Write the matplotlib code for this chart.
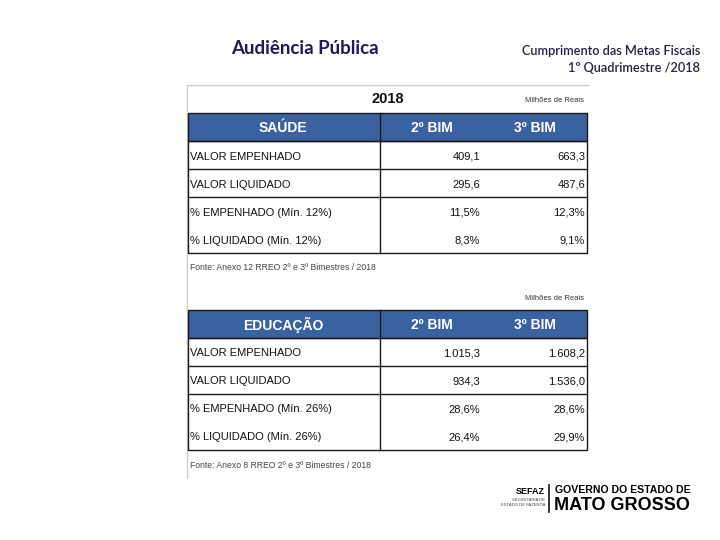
import matplotlib
matplotlib.use("Agg")
import matplotlib.pyplot as plt
from matplotlib.patches import Rectangle

# ---- data ----
year_title = "2018"
unit_label = "Milhões de Reais"
col_headers = ["2º BIM", "3º BIM"]

saude_title = "SAÚDE"
saude_rows = ["VALOR EMPENHADO", "VALOR LIQUIDADO", "% EMPENHADO (Mín. 12%)", "% LIQUIDADO (Mín. 12%)"]
saude_bim2 = ["409,1", "295,6", "11,5%", "8,3%"]
saude_bim3 = ["663,3", "487,6", "12,3%", "9,1%"]
saude_source = "Fonte: Anexo 12 RREO 2º e 3º Bimestres / 2018"

educ_title = "EDUCAÇÃO"
educ_rows = ["VALOR EMPENHADO", "VALOR LIQUIDADO", "% EMPENHADO (Mín. 26%)", "% LIQUIDADO (Mín. 26%)"]
educ_bim2 = ["1.015,3", "934,3", "28,6%", "26,4%"]
educ_bim3 = ["1.608,2", "1.536,0", "28,6%", "29,9%"]
educ_source = "Fonte: Anexo 8 RREO 2º e 3º Bimestres / 2018"

title_left = "Audiência Pública"
title_right = ["Cumprimento das Metas Fiscais", "1º Quadrimestre /2018"]

# ---- figure ----
fig = plt.figure(figsize=(7.2, 5.4), dpi=100)
ax = fig.add_axes([0, 0, 1, 1])
ax.set_xlim(0, 720)
ax.set_ylim(540, 0)
ax.axis("off")

navy = "#1c1c5c"
hdr = "#3b62a0"
font = "Liberation Sans"

ax.text(231, 49, title_left, fontsize=13.5, fontweight="bold", color=navy,
        family="Lato", ha="left", va="center")
ax.text(700, 51, title_right[0], fontsize=9.2, color="#222244", family="Lato",
        ha="right", va="center", fontweight="semibold")
ax.text(700, 68, title_right[1], fontsize=9.2, color="#222244", family="Lato",
        ha="right", va="center", fontweight="semibold")

# frame
ax.plot([187, 588], [85, 85], color="#cccccc", lw=1)
ax.plot([187, 187], [85, 478], color="#cccccc", lw=1)

L, R, D = 188, 587, 380
X2, X3 = 480, 585


def draw_table(top, title, rows, v2, v3, source):
    hh = 28
    rh = 28
    ax.add_patch(Rectangle((L, top), R - L, hh, facecolor=hdr, edgecolor="#1a1a1a", lw=1, zorder=2))
    ax.text((L + D) / 2 - 1, top + hh / 2 + 1, title, color="white", fontsize=10,
            fontweight="bold", family=font, ha="center", va="center", zorder=3)
    ax.text(432, top + hh / 2 + 1, col_headers[0], color="white", fontsize=10,
            fontweight="bold", family=font, ha="center", va="center", zorder=3)
    ax.text(535, top + hh / 2 + 1, col_headers[1], color="white", fontsize=10,
            fontweight="bold", family=font, ha="center", va="center", zorder=3)
    bottom = top + hh + rh * len(rows)
    ax.add_patch(Rectangle((L, top + hh), R - L, bottom - top - hh, facecolor="none",
                           edgecolor="#1a1a1a", lw=1, zorder=2))
    ax.plot([D, D], [top, bottom], color="#1a1a1a", lw=1, zorder=3)
    for i in range(1, 3):
        y = top + hh + rh * i
        ax.plot([L, R], [y, y], color="#1a1a1a", lw=1, zorder=2)
    for i, (lab, a, b) in enumerate(zip(rows, v2, v3)):
        yc = top + hh + rh * i + rh / 2 + 1.5
        ax.text(L + 2, yc, lab, fontsize=8, family=font, ha="left", va="center", color="#111111")
        ax.text(X2, yc, a, fontsize=8, family=font, ha="right", va="center", color="#111111")
        ax.text(X3, yc, b, fontsize=8, family=font, ha="right", va="center", color="#111111")
    ax.text(L + 2, bottom + 15, source, fontsize=6.2, family=font, ha="left", va="center",
            color="#444444")


ax.text(388, 99, year_title, fontsize=10.5, fontweight="bold", family=font,
        ha="center", va="center", color="#111111")
ax.text(584, 101, unit_label, fontsize=5.5, family=font, ha="right", va="center", color="#333333")
draw_table(113, saude_title, saude_rows, saude_bim2, saude_bim3, saude_source)

ax.text(584, 298, unit_label, fontsize=5.5, family=font, ha="right", va="center", color="#333333")
draw_table(310, educ_title, educ_rows, educ_bim2, educ_bim3, educ_source)

# logo
ax.text(545, 492, "SEFAZ", fontsize=6.5, fontweight="bold", family=font, ha="right", va="center")
ax.text(545, 500, "SECRETARIA DE", fontsize=3, family=font, ha="right", va="center", color="#444444")
ax.text(545, 505, "ESTADO DE FAZENDA", fontsize=3, family=font, ha="right", va="center", color="#444444")
ax.plot([549, 549], [485, 512], color="#111111", lw=1.2)
ax.text(555, 490, "GOVERNO DO ESTADO DE", fontsize=7.6, fontweight="bold", family=font,
        ha="left", va="center")
ax.text(554, 505, "MATO GROSSO", fontsize=13, fontweight="bold", family=font,
        ha="left", va="center")

fig.savefig("out.png", dpi=100)
